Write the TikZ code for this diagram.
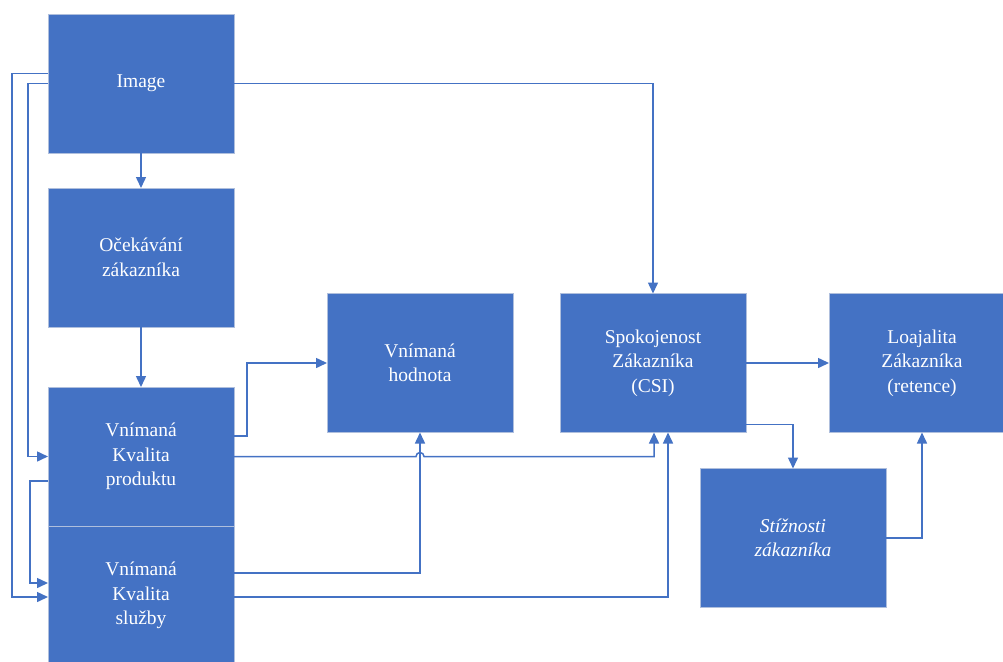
\documentclass[tikz,border=0pt]{standalone}
\usepackage{fontspec}
\setmainfont{Liberation Serif}
\usetikzlibrary{arrows.meta}
\definecolor{boxblue}{HTML}{4472C4}
\definecolor{boxedge}{HTML}{AFBFDD}
\definecolor{lineblue}{HTML}{4472C4}
\begin{document}
\begin{tikzpicture}[x=1pt, y=-1pt,
    box/.style={draw=boxedge, line width=0.9pt, fill=boxblue, minimum width=186pt, minimum height=139pt,
        inner sep=0pt, outer sep=0pt, align=center, text=white, font=\fontsize{19.5}{24.5}\selectfont},
    arr/.style={draw=lineblue, line width=1.5pt, -{Triangle[length=11pt,width=10pt]}}]
\useasboundingbox (0,0) rectangle (1003,661);

% Image
\node[box] (image) at (141,83.5) {Image};

% Ocekavani zakaznika
\node[box] (ocekavani) at (141,257.5) {Očekávání\\zákazníka};

% Vnimana kvalita produktu
\node[box] (produkt) at (141,456.5) {Vnímaná\\Kvalita\\produktu};

% Vnimana kvalita sluzby
\node[box] (sluzby) at (141,595.5) {Vnímaná\\Kvalita\\služby};

% Vnimana hodnota
\node[box] (hodnota) at (420,363) {Vnímaná\\hodnota};

% Spokojenost zakaznika
\node[box] (csi) at (653,363) {Spokojenost\\Zákazníka\\(CSI)};

% Loajalita zakaznika
\node[box] (loajalita) at (922,363) {Loajalita\\Zákazníka\\(retence)};

% Stiznosti zakaznika
\node[box] (stiznosti) at (793,538) {\itshape Stížnosti\\\itshape zákazníka};

% Relationships
\draw[arr] (image.east) -| (csi.north);
\draw[arr] (image.south) -- (ocekavani.north);
\draw[arr] (ocekavani.south) -- (produkt.north);
\draw[arr] ([yshift=10pt]image.west) -- ++(-36,0) |- ([yshift=-1.5pt]sluzby.west);
\draw[arr] (image.west) -- ++(-20,0) |- (produkt.west);
\draw[arr] ([yshift=-24.5pt]produkt.west) -- ++(-18,0) |- ([yshift=12.5pt]sluzby.west);
\draw[arr] ([yshift=20.5pt]produkt.east) -- ++(13,0) |- (hodnota.west);
\draw[arr] (produkt.east) -- ([xshift=-4pt]produkt.east -| hodnota.south)
    arc[start angle=180, end angle=0, radius=4pt] -| ([xshift=1pt]csi.south);
\draw[arr] ([yshift=22.5pt]sluzby.east) -| (hodnota.south);
\draw[arr] ([yshift=-1.5pt]sluzby.east) -| ([xshift=15pt]csi.south);
\draw[arr] (csi.east) -- (loajalita.west);
\draw[arr] ([yshift=8pt]csi.south east) -| (stiznosti.north);
\draw[arr] (stiznosti.east) -| (loajalita.south);

\end{tikzpicture}
\end{document}
